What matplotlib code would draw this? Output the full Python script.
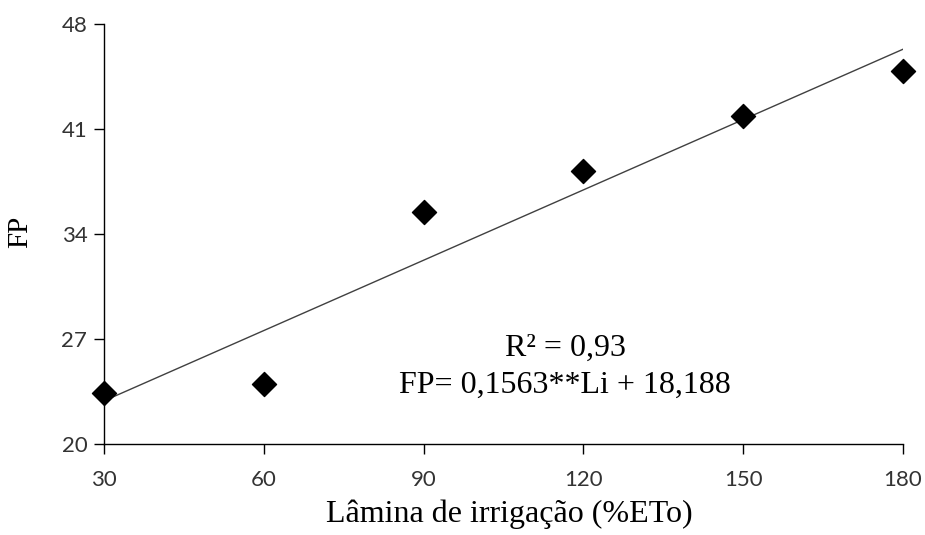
import matplotlib
matplotlib.use("Agg")
import matplotlib.pyplot as plt
import numpy as np

# irrigation depth (%ETo) and FP readings
lamina = [30, 60, 90, 120, 150, 180]
fp = [23.4, 24.0, 35.5, 38.2, 41.9, 44.9]

# fitted line from the equation shown on the chart
slope = 0.1563
intercept = 18.188

x_ticks = [30, 60, 90, 120, 150, 180]
y_ticks = [20, 27, 34, 41, 48]

fig = plt.figure(figsize=(9.25, 5.35), dpi=100)
ax = fig.add_axes([0.1124, 0.170, 0.8638, 0.785])

x_line = np.array([lamina[0], lamina[-1]])
ax.plot(x_line, slope * x_line + intercept, color='#404040', linewidth=1.0, zorder=2)
ax.scatter(lamina, fp, marker='D', s=150, color='black', zorder=3, clip_on=False)

ax.set_xlim(30, 180)
ax.set_ylim(20, 48)
ax.set_xticks(x_ticks)
ax.set_yticks(y_ticks)

for side in ['top', 'right']:
    ax.spines[side].set_visible(False)
for side in ['left', 'bottom']:
    ax.spines[side].set_color('black')
    ax.spines[side].set_linewidth(1.0)

tick_font = ['Lato', 'DejaVu Sans']
ax.tick_params(axis='both', direction='out', length=7, width=1.0, colors='black', labelsize=16)
ax.tick_params(axis='x', pad=12)
ax.tick_params(axis='y', pad=5)
for lab in ax.get_xticklabels() + ax.get_yticklabels():
    lab.set_family(tick_font)
    lab.set_color('#333333')

serif = ['Liberation Serif', 'DejaVu Serif']
ax.set_xlabel('Lâmina de irrigação (%ETo)', fontsize=23, family=serif)
ax.set_ylabel('FP', fontsize=21, family=serif)
ax.xaxis.set_label_coords(0.507, -0.133)
ax.yaxis.set_label_coords(-0.105, 0.505)
ax.yaxis.label.set_verticalalignment('center')

ax.text(0.577, 0.229, 'R² = 0,93', transform=ax.transAxes, ha='center', va='center',
        fontsize=23, family=serif)
ax.text(0.577, 0.140, 'FP= 0,1563**Li + 18,188', transform=ax.transAxes, ha='center', va='center',
        fontsize=23, family=serif)

fig.savefig('out.png', dpi=100)
plt.close(fig)
